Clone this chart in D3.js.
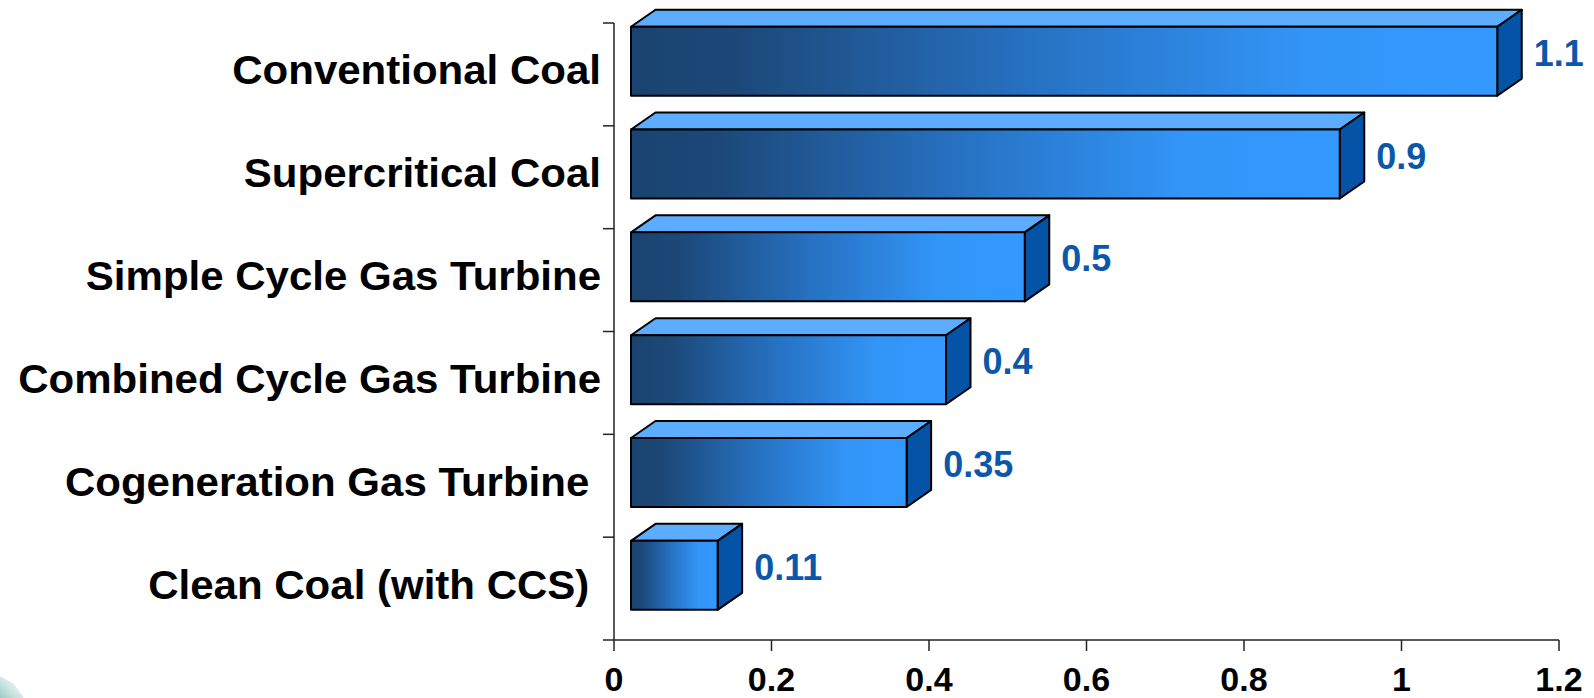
<!DOCTYPE html>
<html>
<head>
<meta charset="utf-8">
<script src="https://cdn.jsdelivr.net/npm/d3@7"></script>
<style>
  html, body { margin: 0; padding: 0; background: #ffffff; }
  svg { display: block; }
  text { font-family: "Liberation Sans", Arial, sans-serif; font-weight: bold; }
  .cat { white-space: pre; }
</style>
</head>
<body>
<svg id="chart" width="1594" height="698"></svg>
<script>
// Emission intensity by generation technology
const categories = [
  "Conventional Coal",
  "Supercritical Coal",
  "Simple Cycle Gas Turbine",
  "Combined Cycle Gas Turbine",
  "Cogeneration Gas Turbine ",
  "Clean Coal (with CCS) "
];
const values = [1.1, 0.9, 0.5, 0.4, 0.35, 0.11];
const valueLabels = ["1.1", "0.9", "0.5", "0.4", "0.35", "0.11"];
const xTicks = [0, 0.2, 0.4, 0.6, 0.8, 1, 1.2];
const xTickLabels = ["0", "0.2", "0.4", "0.6", "0.8", "1", "1.2"];

const W = 1594, H = 698;
const plot = { left: 614, right: 1559, top: 23, bottom: 640 };

// 3-D box geometry
const depthX = 24.5, depthY = 17;   // receding edge offset
const floorX = 17;                  // front face starts this far right of the axis
const faceTopPad = 3.7;             // front face top within its band
const faceH = 69;                   // front face height

const svg = d3.select("#chart");

const x = d3.scaleLinear().domain([0, 1.2]).range([plot.left, plot.right]);
const y = d3.scaleBand().domain(categories).range([plot.top, plot.bottom]).padding(0);

// faint decorative corner at the lower left
const defs = svg.append("defs");
const corner = defs.append("linearGradient").attr("id", "cornerGrad")
  .attr("x1", 0).attr("y1", 1).attr("x2", 1).attr("y2", 0);
corner.append("stop").attr("offset", 0).attr("stop-color", "#8cc4bc").attr("stop-opacity", 0.9);
corner.append("stop").attr("offset", 1).attr("stop-color", "#d8eeea").attr("stop-opacity", 0.2);
svg.append("path")
  .attr("d", "M0,676 L14,684 L24,698 L0,698 Z")
  .attr("fill", "url(#cornerGrad)");

// front-face gradient: dark navy on the left to bright blue on the right
const grad = defs.append("linearGradient").attr("id", "frontGrad")
  .attr("x1", 0).attr("y1", 0).attr("x2", 1).attr("y2", 0);
[[0, "#1a436f"], [0.12, "#1c4878"], [0.45, "#2670c0"], [0.78, "#3295f7"], [1, "#3399ff"]]
  .forEach(([o, c]) => grad.append("stop").attr("offset", o).attr("stop-color", c));

// axes
const axisColor = "#222";
const yAxisG = svg.append("g");
yAxisG.append("line")
  .attr("x1", plot.left).attr("x2", plot.left)
  .attr("y1", plot.top).attr("y2", plot.bottom)
  .attr("stroke", axisColor).attr("stroke-width", 1.5);
const bounds = categories.map(c => y(c)).concat([plot.bottom]);
yAxisG.selectAll("line.tick").data(bounds).join("line")
  .attr("class", "tick")
  .attr("x1", plot.left - 11).attr("x2", plot.left)
  .attr("y1", d => d).attr("y2", d => d)
  .attr("stroke", axisColor).attr("stroke-width", 1.5);

const xAxisG = svg.append("g");
xAxisG.append("line")
  .attr("x1", plot.left).attr("x2", plot.right)
  .attr("y1", plot.bottom).attr("y2", plot.bottom)
  .attr("stroke", axisColor).attr("stroke-width", 1.5);
xAxisG.selectAll("line.tick").data(xTicks).join("line")
  .attr("class", "tick")
  .attr("x1", d => x(d)).attr("x2", d => x(d))
  .attr("y1", plot.bottom).attr("y2", plot.bottom + 11)
  .attr("stroke", axisColor).attr("stroke-width", 1.5);
xAxisG.selectAll("text").data(xTicks).join("text")
  .attr("x", d => x(d))
  .attr("y", plot.bottom + 51)
  .attr("text-anchor", "middle")
  .attr("font-size", 34)
  .attr("fill", "#000")
  .text((d, i) => xTickLabels[i]);

// category labels (slightly widened lettering)
const labelRight = 601, labelStretch = 1.025;
svg.append("g").selectAll("text").data(categories).join("text")
  .attr("class", "cat")
  .attr("transform", d => `translate(${labelRight},${y(d) + y.bandwidth() / 2 + 10}) scale(${labelStretch},1)`)
  .attr("text-anchor", "end")
  .attr("font-size", 41)
  .attr("fill", "#000")
  .text(d => d);

// bars as 3-D boxes
const x0 = x(0) + floorX;
const bars = svg.append("g").selectAll("g").data(values).join("g");

bars.each(function (v, i) {
  const g = d3.select(this);
  const top = y(categories[i]) + faceTopPad;
  const bot = top + faceH;
  const left = x0;
  const right = x0 + (x(v) - x(0));
  const edge = s => s.attr("stroke", "#000").attr("stroke-width", 2).attr("stroke-linejoin", "round");

  // top face
  g.append("path")
    .attr("d", `M${left},${top} L${left + depthX},${top - depthY} L${right + depthX},${top - depthY} L${right},${top} Z`)
    .attr("fill", "#5cadff").call(edge);
  // side face
  g.append("path")
    .attr("d", `M${right},${top} L${right + depthX},${top - depthY} L${right + depthX},${bot - depthY} L${right},${bot} Z`)
    .attr("fill", "#0453a6").call(edge);
  // front face
  g.append("rect")
    .attr("x", left).attr("y", top)
    .attr("width", right - left).attr("height", faceH)
    .attr("fill", "url(#frontGrad)").call(edge);

  // value label
  g.append("text")
    .attr("x", right + depthX + 12)
    .attr("y", top + faceH / 2 - depthY / 2 + 13)
    .attr("font-size", 36)
    .attr("fill", "#0b58aa")
    .text(valueLabels[i]);
});
</script>
</body>
</html>
